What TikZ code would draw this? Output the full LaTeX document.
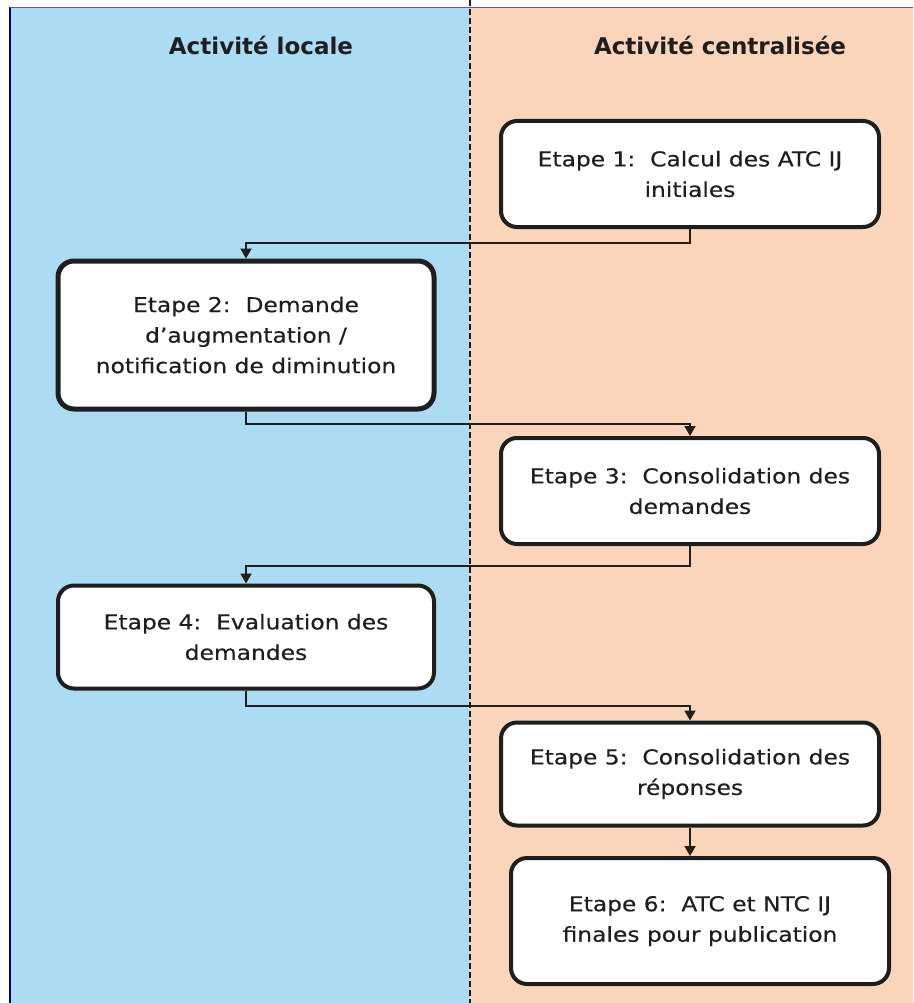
\documentclass[tikz,border=0pt]{standalone}
\usepackage{fontspec}
\setmainfont{DejaVu Sans}
\newfontfamily\bodyfont[FakeStretch=1.14,FakeBold=0.3]{DejaVu Sans}
\usetikzlibrary{arrows.meta}
\definecolor{lanea}{RGB}{172,219,244}
\definecolor{laneb}{RGB}{250,213,186}
\definecolor{ink}{RGB}{30,30,30}
\tikzset{
  stepbox/.style={draw=ink, line width=4pt, rounded corners=16pt, fill=white,
    align=center, inner sep=0pt, font=\bodyfont\fontsize{20.5}{30.5}\selectfont, text=ink},
  lanetitle/.style={font=\bfseries\fontsize{23}{27}\selectfont, text=ink},
  flow/.style={draw=ink, line width=2pt, -{Triangle[width=11pt,length=10pt]}},
}
\begin{document}
\begin{tikzpicture}[x=1pt,y=-1pt]
\useasboundingbox (0,0) rectangle (913,1003);
\fill[white] (0,0) rectangle (913,1003);
\fill[lanea] (10,7) rectangle (470,1003);
\fill[laneb] (470,7) rectangle (913,1003);
\draw[blue!60!black, line width=1.2pt] (10,1003) -- (10,7);
\draw[gray!70!blue, line width=0.8pt] (10,7) -- (913,7);
\draw[ink, line width=1.6pt, dash pattern=on 6pt off 3pt] (470,0) -- (470,1003);

\node[lanetitle] (t1) at (261,45) {Activité locale};
\node[lanetitle] (t2) at (720,45) {Activité centralisée};

\node[stepbox, minimum width=378pt, minimum height=106pt] (b1) at (690,174)
  {Etape 1:\ \ Calcul des ATC IJ\\initiales};
\node[stepbox, line width=5pt, minimum width=376pt, minimum height=148pt] (b2) at (246,335)
  {Etape 2:\ \ Demande\\d’augmentation /\\notification de diminution};
\node[stepbox, minimum width=378pt, minimum height=106pt] (b3) at (690,491)
  {Etape 3:\ \ Consolidation des\\demandes};
\node[stepbox, minimum width=376pt, minimum height=103pt] (b4) at (246,637)
  {Etape 4:\ \ Evaluation des\\demandes};
\node[stepbox, minimum width=378pt, minimum height=103pt] (b5) at (690,774)
  {Etape 5:\ \ Consolidation des\\réponses};
\node[stepbox, minimum width=378pt, minimum height=126pt] (b6) at (700,921)
  {Etape 6:\ \ ATC et NTC IJ\\finales pour publication};

\draw[flow] (b1.south) -- ++(0,14) -| (b2.north);
\draw[flow] (b2.south) -- ++(0,12) -| (b3.north);
\draw[flow] (b3.south) -- ++(0,20) -| (b4.north);
\draw[flow] (b4.south) -- ++(0,15) -| (b5.north);
\draw[flow] (b5.south) -- (b5.south |- b6.north);
\end{tikzpicture}
\end{document}
